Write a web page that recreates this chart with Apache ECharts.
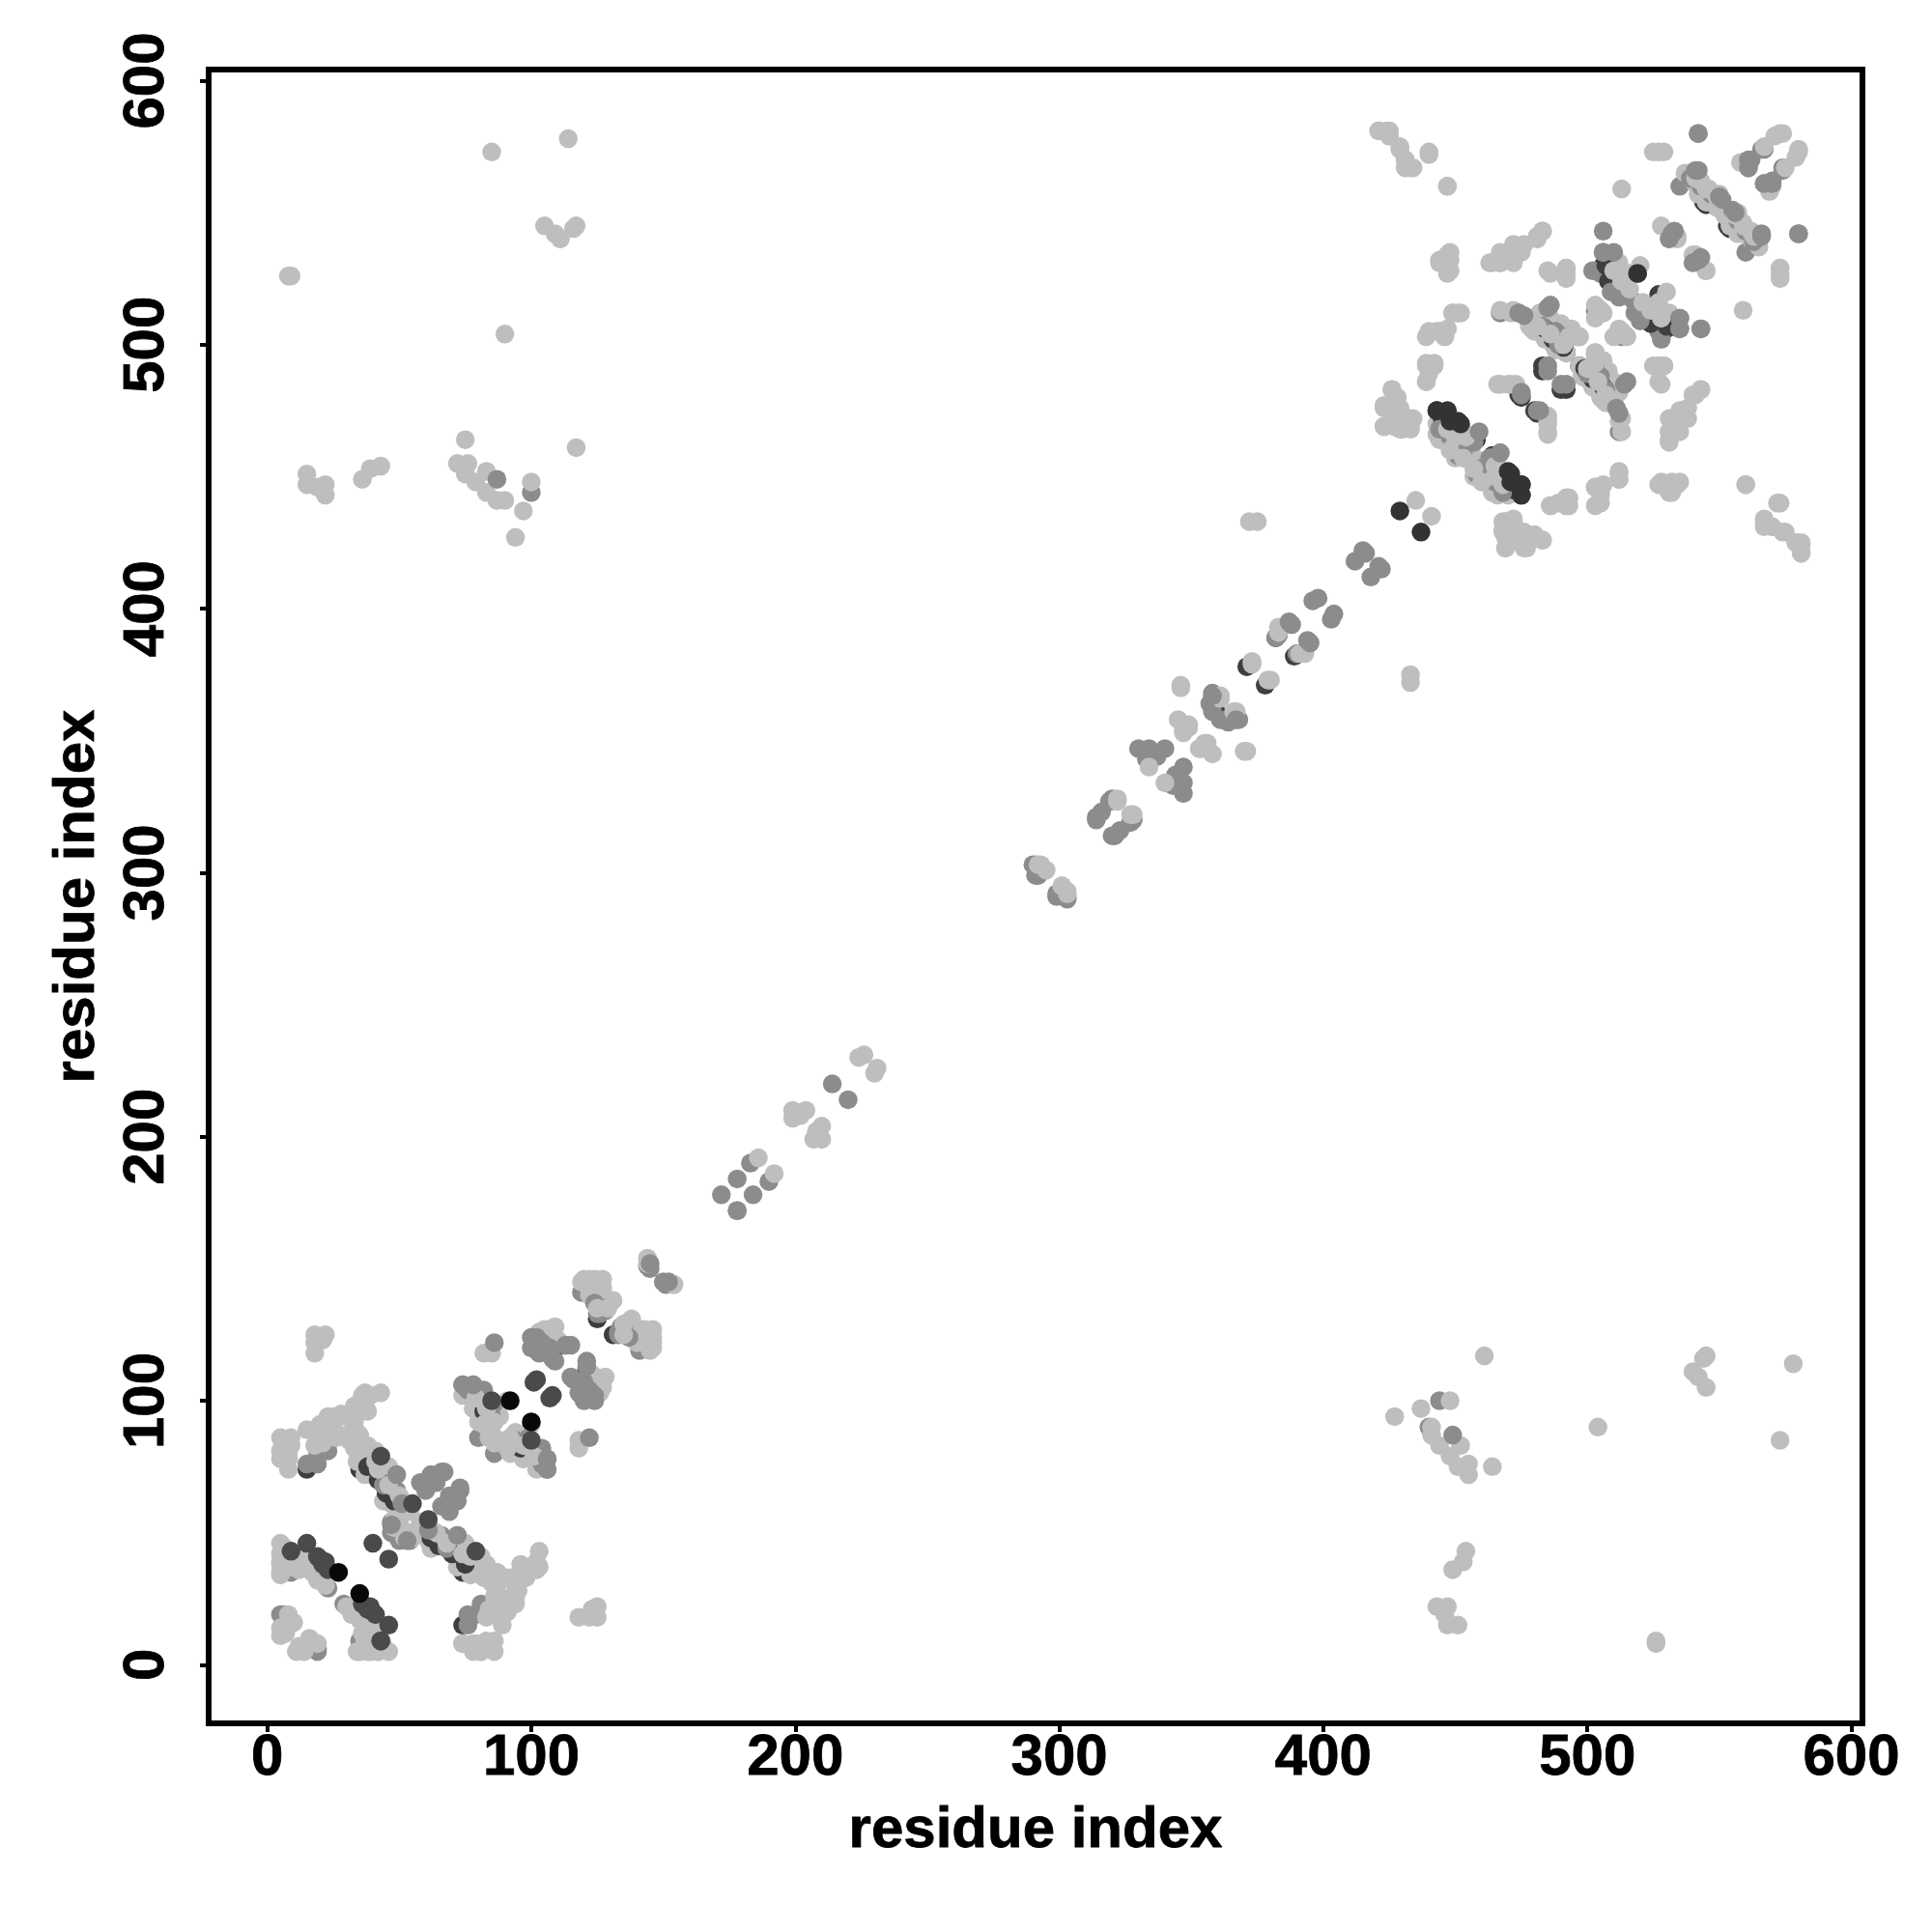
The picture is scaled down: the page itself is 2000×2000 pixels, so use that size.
<!DOCTYPE html>
<html><head><meta charset="utf-8">
<style>html,body{margin:0;padding:0;background:#fff}#c{width:2000px;height:2000px}</style>
<script src="https://cdn.jsdelivr.net/npm/echarts@6/dist/echarts.min.js"></script>
</head><body><div id="c"></div>
<script>
const tickValues=[0,100,200,300,400,500,600];
const axisTitle="residue index";
const darkUnder=[[125,131],[131,125],[371,378],[378,371],[359,363],[363,359],[544,554],[554,544],[553,545],[545,553],[506,530],[530,506],[506,527],[527,506],[483,504],[504,483],[492,497],[497,492],[483,490],[490,483],[492,483],[483,492],[475,480],[480,475],[481,474],[474,481],[449,469],[469,449],[455,461],[461,455],[458,464],[464,458],[15,74],[74,15],[10,39],[39,10],[11,38],[38,11],[19,37],[37,19],[63,48],[48,63],[45,64],[64,45],[35,74],[74,35],[37,73],[73,37],[112,121],[121,112],[389,382],[382,389],[85,96],[96,85],[519,527],[527,519]];
const midUnder=[[5,19],[19,5],[6,13],[13,6],[19,6],[6,19],[23,29],[29,23],[35,9],[9,35],[7,36],[36,7],[15,76],[76,15],[19,76],[76,19],[23,81],[81,23],[19,79],[79,19],[74,106],[106,74],[78,106],[106,78],[82,104],[104,82],[80,86],[86,80],[47,54],[54,47],[50,47],[47,50],[55,50],[50,55],[125,133],[133,125],[134,128],[128,134],[141,119],[119,141],[144,151],[151,144],[150,145],[145,150],[183,190],[190,183],[172,178],[178,172],[291,303],[303,291],[291,299],[299,291],[293,301],[301,293],[299,292],[292,299],[303,290],[290,303],[320,328],[328,320],[327,319],[319,327],[330,347],[347,330],[334,347],[347,334],[337,344],[344,337],[333,343],[343,333],[340,347],[347,340],[358,368],[368,358],[357,364],[364,357],[361,358],[358,361],[382,389],[390,383],[383,390],[535,560],[560,535],[540,564],[564,540],[505,527],[527,505],[518,512],[512,518],[467,512],[512,467],[528,502],[502,528],[513,503],[503,513],[444,100],[100,444],[440,90],[567,574],[574,567],[562,570],[570,562],[567,561],[561,567],[574,566],[566,574]];
const lightPts=[[5,14],[14,5],[5,11],[11,5],[8,16],[16,8],[8,19],[19,8],[10,16],[16,10],[12,7],[7,12],[5,46],[46,5],[5,42],[42,5],[5,39],[39,5],[5,35],[35,5],[9,39],[39,9],[14,41],[41,14],[14,37],[37,14],[7,40],[40,7],[7,44],[44,7],[12,40],[40,12],[12,36],[36,12],[17,35],[35,17],[21,34],[34,21],[22,30],[30,22],[32,22],[22,32],[32,19],[19,32],[38,13],[13,38],[40,15],[15,40],[40,9],[9,40],[37,9],[9,37],[34,5],[5,34],[38,5],[42,5],[5,38],[5,86],[86,5],[5,81],[81,5],[8,78],[78,8],[8,74],[74,8],[18,125],[125,18],[22,125],[125,22],[18,118],[118,18],[18,122],[122,18],[21,123],[123,21],[18,83],[83,18],[21,84],[84,21],[18,88],[88,18],[22,90],[90,22],[25,90],[90,25],[23,94],[94,23],[28,95],[95,28],[30,94],[94,30],[33,92],[92,33],[33,98],[98,33],[36,96],[96,36],[38,96],[96,38],[36,102],[102,36],[39,102],[102,39],[43,103],[103,43],[37,103],[103,37],[30,87],[87,30],[34,88],[88,34],[35,87],[87,35],[38,83],[83,38],[33,82],[82,33],[36,80],[80,36],[34,77],[77,34],[37,72],[72,37],[40,74],[74,40],[46,75],[75,46],[43,72],[72,43],[47,68],[68,47],[44,62],[62,44],[49,64],[64,49],[47,61],[61,47],[50,59],[59,50],[48,52],[52,48],[54,58],[58,54],[50,53],[53,50],[60,50],[50,60],[55,48],[48,55],[58,50],[67,47],[47,67],[70,43],[43,70],[69,47],[47,69],[72,49],[49,72],[75,44],[44,75],[81,41],[41,81],[40,78],[78,40],[42,76],[76,42],[44,72],[72,44],[46,70],[70,46],[39,75],[75,39],[45,65],[65,45],[48,66],[66,48],[50,63],[63,50],[85,31],[31,85],[87,35],[83,35],[35,83],[86,26],[26,86],[88,22],[22,88],[91,20],[20,91],[94,25],[25,94],[89,25],[25,89],[89,15],[15,89],[81,5],[84,8],[8,84],[74,8],[78,5],[5,78],[79,8],[8,79],[86,9],[9,86],[83,9],[9,83],[74,102],[102,74],[78,100],[100,78],[78,97],[97,78],[80,92],[92,80],[84,92],[92,84],[88,94],[94,88],[84,90],[90,84],[86,84],[84,86],[88,85],[85,88],[92,81],[81,92],[94,84],[84,94],[97,78],[100,80],[80,100],[100,91],[91,100],[82,118],[118,82],[85,118],[118,85],[103,126],[126,103],[105,127],[127,105],[109,128],[128,109],[126,106],[106,126],[123,110],[110,123],[119,145],[145,119],[122,146],[146,122],[127,146],[146,127],[127,142],[142,127],[123,139],[139,123],[126,138],[138,126],[130,137],[137,130],[128,135],[135,128],[138,131],[131,138],[143,127],[127,143],[146,120],[120,146],[146,124],[124,146],[140,122],[122,140],[144,154],[154,144],[144,152],[154,144],[186,192],[192,186],[199,210],[210,199],[204,210],[210,204],[202,208],[208,202],[207,199],[199,207],[224,230],[230,224],[226,231],[231,226],[293,303],[303,293],[295,301],[301,295],[301,295],[303,292],[292,303],[322,328],[328,322],[327,322],[322,327],[334,340],[340,334],[346,371],[371,346],[370,346],[346,370],[361,367],[367,361],[366,361],[361,366],[345,358],[358,345],[349,355],[355,349],[347,353],[353,347],[354,347],[347,354],[356,349],[349,356],[373,380],[380,373],[379,373],[373,379],[383,393],[393,383],[391,383],[383,391],[372,433],[433,372],[375,433],[433,375],[435,441],[441,435],[421,581],[581,421],[424,581],[581,424],[425,579],[579,425],[429,574],[574,429],[431,570],[570,431],[431,567],[567,431],[434,567],[567,434],[440,572],[572,440],[447,560],[560,447],[513,559],[559,513],[527,573],[573,527],[529,573],[573,529],[573,580],[580,573],[571,579],[579,571],[567,575],[575,567],[580,574],[574,580],[558,569],[569,558],[567,561],[570,560],[537,565],[565,537],[540,562],[562,540],[543,559],[559,543],[545,558],[558,545],[548,556],[556,548],[556,550],[550,556],[557,546],[546,557],[559,544],[544,559],[561,541],[541,561],[542,557],[557,542],[547,555],[555,547],[549,553],[553,549],[555,548],[548,555],[552,549],[549,552],[560,543],[543,560],[563,541],[541,563],[554,545],[545,554],[528,545],[545,528],[534,541],[541,534],[540,534],[534,540],[545,528],[573,529],[573,525],[525,573],[512,531],[531,512],[511,527],[527,511],[514,523],[523,514],[520,530],[530,520],[527,516],[516,527],[522,513],[513,522],[524,511],[511,524],[533,510],[510,533],[528,511],[511,528],[485,528],[528,485],[492,529],[529,492],[492,525],[525,492],[447,534],[534,447],[444,531],[531,444],[447,531],[531,447],[447,527],[527,447],[483,543],[543,483],[481,541],[541,481],[472,538],[538,472],[476,538],[538,476],[468,534],[534,468],[463,531],[531,463],[467,531],[531,467],[472,532],[532,472],[504,514],[514,504],[505,513],[513,505],[506,512],[512,506],[513,504],[504,513],[515,503],[503,515],[510,503],[503,510],[451,512],[512,451],[449,512],[512,449],[443,505],[505,443],[440,505],[505,440],[446,503],[503,446],[447,506],[506,447],[439,492],[492,439],[442,492],[492,442],[439,486],[486,439],[471,512],[512,471],[479,510],[510,479],[485,510],[510,485],[479,506],[506,479],[482,507],[507,482],[490,500],[500,490],[494,503],[503,494],[497,503],[503,497],[487,500],[500,487],[497,492],[492,497],[500,491],[491,500],[503,496],[496,503],[498,488],[488,498],[504,486],[486,504],[510,486],[486,510],[512,482],[482,512],[513,472],[472,513],[513,467],[467,513],[505,480],[480,505],[508,490],[490,508],[506,494],[494,506],[502,484],[484,502],[507,478],[478,507],[470,485],[485,470],[467,485],[485,467],[473,485],[485,473],[485,471],[471,485],[485,466],[466,485],[527,492],[492,527],[529,492],[492,529],[527,486],[486,527],[543,483],[483,543],[540,481],[481,540],[535,475],[475,535],[537,473],[473,537],[531,472],[472,531],[535,467],[467,535],[531,467],[467,531],[531,464],[464,531],[426,483],[483,426],[428,480],[480,428],[423,476],[476,423],[423,469],[469,423],[429,475],[475,429],[433,472],[472,433],[433,469],[469,433],[427,469],[469,427],[430,468],[468,430],[453,467],[467,453],[444,464],[464,444],[449,467],[467,449],[450,462],[462,450],[457,450],[450,457],[463,457],[457,463],[445,468],[468,445],[447,463],[463,447],[449,465],[465,449],[451,462],[462,451],[453,461],[461,453],[456,460],[460,456],[443,466],[466,443],[446,470],[470,446],[465,445],[445,465],[470,443],[443,470],[461,449],[449,461],[467,450],[450,467],[486,439],[439,486],[489,440],[440,489],[493,442],[442,493],[493,439],[439,493],[503,439],[439,503],[503,446],[446,503],[505,446],[446,505],[505,444],[444,505],[512,452],[452,512],[512,449],[449,512],[528,448],[448,528],[532,448],[448,532],[535,448],[448,535],[532,444],[444,532],[560,447],[447,560],[573,440],[440,573],[567,433],[433,567],[570,431],[431,570],[575,429],[429,575],[579,425],[425,579],[581,425],[425,581],[581,421],[421,581],[468,433],[433,468],[472,434],[434,472],[468,429],[429,468],[472,429],[429,472],[476,429],[429,476],[483,426],[426,483],[469,423],[423,469],[477,423],[423,477],[473,426],[426,473],[461,117],[117,461],[448,100],[100,448],[437,97],[97,437],[427,94],[94,427],[441,90],[90,441],[441,87],[87,441],[444,83],[83,444],[452,83],[83,452],[448,79],[79,448],[451,75],[75,451],[455,76],[76,455],[455,72],[72,455],[464,75],[75,464],[504,90],[90,504],[545,117],[117,545],[544,116],[116,544],[540,111],[111,540],[542,109],[109,542],[545,105],[105,545],[578,114],[114,578],[573,85],[85,573],[454,43],[43,454],[453,39],[39,453],[449,36],[36,449],[443,22],[22,443],[447,22],[22,447],[446,19],[19,446],[447,15],[15,447],[451,15],[15,451],[526,9],[9,526],[526,8],[8,526]];
const stripeDark=[[445,472],[472,445],[449,468],[468,449],[452,463],[463,452],[450,460],[460,450],[508,524],[524,508],[507,530],[530,507],[512,522],[522,512],[487,502],[502,487],[491,499],[499,491],[484,506],[506,484],[45,65],[65,45],[48,62],[62,48],[42,70],[70,42],[38,75],[75,38],[84,94],[94,84],[82,96],[96,82]];
const stripeMid=[[444,468],[468,444],[448,465],[465,448],[451,458],[458,451],[453,459],[459,453],[457,463],[463,457],[512,520],[520,512],[516,518],[518,516],[509,520],[520,509],[483,507],[507,483],[488,505],[505,488],[492,503],[503,492],[489,500],[500,489],[539,563],[563,539],[543,560],[560,543],[547,557],[557,547],[555,551],[551,555],[557,548],[548,557],[560,544],[544,560],[563,541],[541,563],[49,66],[66,49],[51,62],[62,51],[44,68],[68,44],[76,104],[104,76],[82,100],[100,82],[85,94],[94,85],[86,99],[99,86],[124,137],[137,124],[128,135],[135,128],[126,133],[133,126]];
const lightTop=[[447,468],[468,447],[450,465],[465,450],[454,465],[465,454],[448,460],[460,448],[453,457],[457,453],[510,528],[528,510],[513,524],[524,513],[516,521],[521,516],[514,526],[526,514],[481,507],[507,481],[486,504],[504,486],[491,500],[500,491],[493,503],[503,493],[497,503],[503,497],[541,563],[563,541],[545,559],[559,545],[549,556],[556,549],[557,550],[550,557],[559,546],[546,559],[562,543],[543,562],[46,68],[68,46],[50,64],[64,50],[42,74],[74,42],[41,77],[77,41],[79,101],[101,79],[83,97],[97,83],[82,91],[91,82],[86,92],[92,86],[125,135],[135,125],[129,135],[135,129]];
const midTop=[[86,122],[122,86],[47,53],[53,47],[49,72],[72,49],[51,61],[61,51],[74,106],[106,74],[78,106],[106,78],[100,124],[124,100],[100,120],[120,100],[103,118],[118,103],[108,116],[116,108],[109,115],[115,109],[119,102],[102,119],[107,120],[120,107],[104,122],[122,104],[124,102],[102,124],[113,121],[121,113],[121,115],[115,121],[58,69],[69,58],[62,72],[72,62],[66,73],[73,66],[66,60],[60,66],[73,67],[67,73],[69,64],[64,69],[63,69],[69,63],[145,152],[152,145],[178,184],[184,178],[178,172],[214,220],[220,214],[387,395],[395,387],[394,388],[388,394],[367,358],[358,367],[396,403],[403,396],[398,404],[404,398],[412,418],[418,412],[415,422],[422,415],[421,416],[416,421],[314,321],[321,314],[316,323],[323,316],[320,314],[314,320],[542,580],[580,542],[541,566],[566,541],[550,556],[556,550],[566,542],[542,566],[580,542],[542,580],[561,570],[570,561],[561,567],[567,561],[532,542],[542,532],[543,533],[533,543],[540,531],[531,540],[506,543],[543,506],[506,535],[535,506],[510,535],[535,510],[535,510],[535,506],[506,535],[543,506],[474,512],[512,474],[485,514],[514,485],[459,467],[467,459],[467,459],[515,486],[486,515],[511,476],[476,511],[475,481],[481,475],[482,475],[475,482],[485,490],[490,485],[492,485],[485,492],[449,87],[87,449]];
const darkTop=[[9,43],[43,9],[15,46],[46,15],[22,39],[39,22],[19,41],[41,19],[21,38],[38,21],[36,23],[23,36],[40,20],[20,40],[40,46],[46,40],[55,61],[61,55],[43,79],[79,43],[85,100],[100,85],[102,108],[108,102],[101,107],[107,101],[43,9]];
const darkest=[[429,437],[437,429],[519,527],[443,475],[475,443],[447,475],[475,447],[451,471],[471,451],[470,452],[452,470],[471,448],[448,471],[475,447],[475,443],[443,475]];
const blackTop=[[27,35],[35,27],[92,100],[100,92]];

const layers=[[darkUnder,'#3e3e3e'],[midUnder,'#8c8c8c'],[lightPts,'#bebebe'],[stripeDark,'#3e3e3e'],[stripeMid,'#8c8c8c'],[lightTop,'#bebebe'],[midTop,'#8c8c8c'],[darkTop,'#4a4a4a'],[darkest,'#333333'],[blackTop,'#080808']];
const font={fontFamily:'Liberation Sans',fontWeight:'bold',fontSize:59,color:'#000',textBorderColor:'#000',textBorderWidth:0.8};
function axis(isY){return {type:'value',min:-22.2,max:604.2,
  name:axisTitle,nameLocation:'middle',nameGap:isY?106:81,
  nameTextStyle:{...font,fontSize:60},
  splitLine:{show:false},
  axisLine:{show:false,onZero:false},
  axisTick:{show:true,length:9,inside:false,lineStyle:{color:'#000',width:4},customValues:tickValues},
  axisLabel:{...font,fontSize:60,margin:isY?34:6,rotate:isY?90:0,customValues:tickValues,showMinLabel:true,showMaxLabel:true,hideOverlap:false}
};}
const chart=echarts.init(document.getElementById('c'),null,{renderer:'canvas'});
chart.setOption({animation:false,backgroundColor:'#fff',
  grid:{left:216,top:72,width:1712,height:1712,show:true,borderColor:'#000',borderWidth:6,backgroundColor:'transparent',containLabel:false},
  xAxis:axis(false),yAxis:axis(true),
  series:layers.map(([d,c])=>({type:'scatter',data:d,symbol:'circle',symbolSize:19.5,itemStyle:{color:c,opacity:1},clip:false,large:false}))
});
</script></body></html>
